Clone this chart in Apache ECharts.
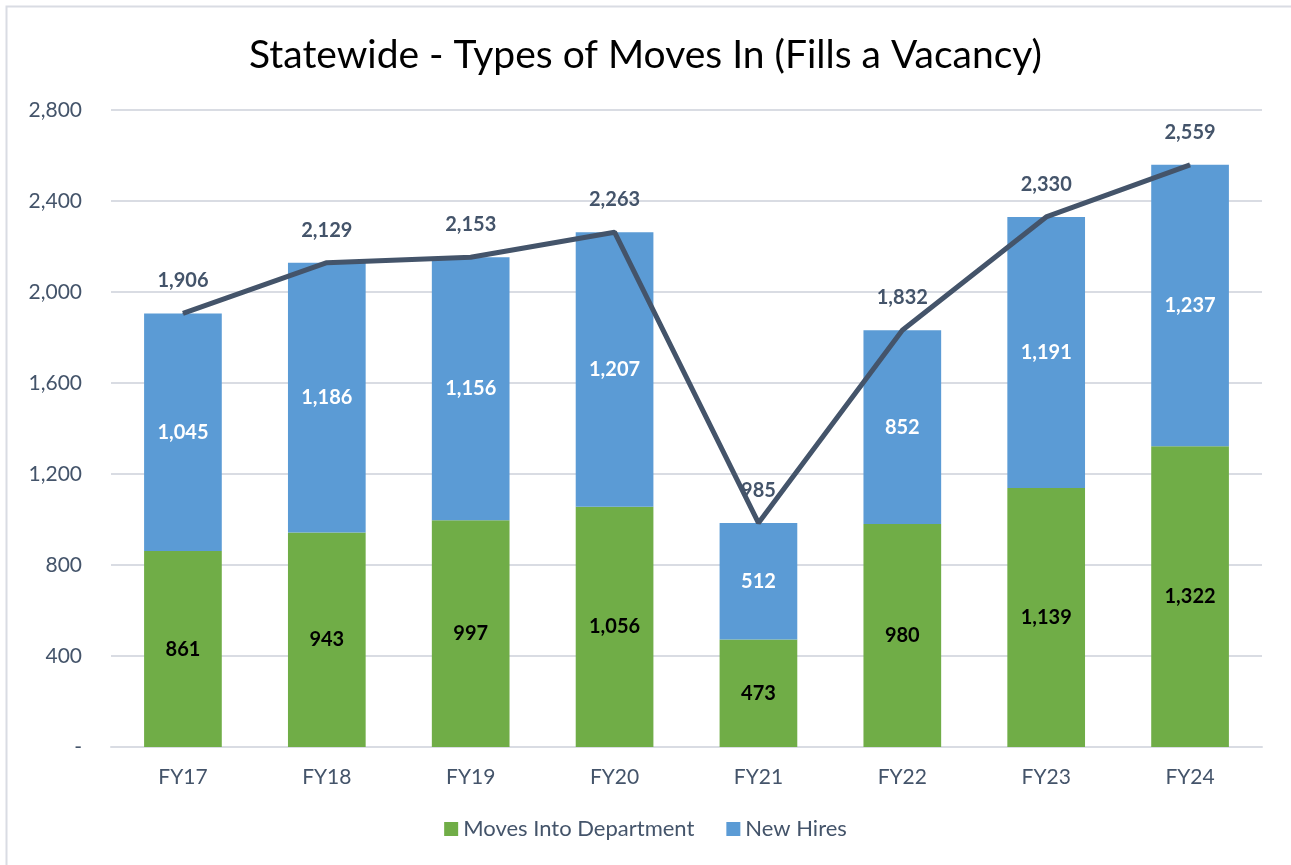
<!DOCTYPE html>
<html>
<head>
<meta charset="utf-8">
<script src="https://cdn.jsdelivr.net/npm/echarts@6/dist/echarts.min.js"></script>
<style>
  html, body { margin: 0; padding: 0; background: #fff; }
  #chart { width: 1291px; height: 865px; }
</style>
</head>
<body>
<div id="chart"></div>
<script>
const categories = ["FY17", "FY18", "FY19", "FY20", "FY21", "FY22", "FY23", "FY24"];
const movesIntoDept = [861, 943, 997, 1056, 473, 980, 1139, 1322];
const newHires = [1045, 1186, 1156, 1207, 512, 852, 1191, 1237];
const totals = [1906, 2129, 2153, 2263, 985, 1832, 2330, 2559];

const font = "Lato, 'Open Sans', sans-serif";
const textGray = "#44546A";

function fmt(v) {
  return v.toLocaleString("en-US");
}

const chart = echarts.init(document.getElementById("chart"), null, { renderer: "canvas" });

const option = {
  animation: false,
  backgroundColor: "#fff",
  textStyle: { fontFamily: font },
  graphic: [
    {
      type: "rect",
      shape: { x: 6.5, y: 6.5, width: 1310, height: 900 },
      style: { fill: "none", stroke: "#D9DCE3", lineWidth: 2 }
    }
  ],
  title: {
    text: "Statewide - Types of Moves In (Fills a Vacancy)",
    left: "center",
    top: 31,
    textStyle: { fontFamily: font, fontSize: 39, fontWeight: "normal", color: "#000" }
  },
  legend: {
    bottom: 20,
    left: "center",
    itemWidth: 14,
    itemHeight: 14,
    itemGap: 32,
    icon: "rect",
    data: ["Moves Into Department", "New Hires"],
    textStyle: { fontFamily: font, fontSize: 22, color: textGray }
  },
  grid: { left: 111, right: 29, top: 110, bottom: 118 },
  xAxis: {
    type: "category",
    data: categories,
    axisTick: { show: false },
    axisLine: { lineStyle: { color: "#D9DCE3", width: 2 } },
    axisLabel: { fontFamily: font, fontSize: 21, color: textGray, margin: 20 }
  },
  yAxis: {
    type: "value",
    min: 0,
    max: 2800,
    interval: 400,
    axisLine: { show: false },
    axisTick: { show: false },
    splitLine: { lineStyle: { color: "#D9DCE3", width: 2 } },
    axisLabel: {
      fontFamily: font,
      fontSize: 21,
      color: textGray,
      margin: 29,
      formatter: v => (v === 0 ? "-" : fmt(v))
    }
  },
  series: [
    {
      name: "Moves Into Department",
      type: "bar",
      stack: "total",
      barWidth: "54%",
      itemStyle: { color: "#70AD47" },
      label: {
        show: true,
        position: "inside",
        fontFamily: font,
        fontSize: 20,
        fontWeight: "bold",
        color: "#000",
        formatter: p => fmt(p.value)
      },
      data: movesIntoDept
    },
    {
      name: "New Hires",
      type: "bar",
      stack: "total",
      barWidth: "54%",
      itemStyle: { color: "#5B9BD5" },
      label: {
        show: true,
        position: "inside",
        fontFamily: font,
        fontSize: 20,
        fontWeight: "bold",
        color: "#fff",
        formatter: p => fmt(p.value)
      },
      data: newHires
    },
    {
      name: "Total",
      type: "line",
      showSymbol: true,
      symbol: "circle",
      symbolSize: 1,
      itemStyle: { color: "#44546A" },
      lineStyle: { color: "#44546A", width: 5 },
      label: {
        show: true,
        position: "top",
        distance: 22,
        fontFamily: font,
        fontSize: 20,
        fontWeight: "bold",
        color: textGray,
        formatter: p => fmt(p.value)
      },
      z: 5,
      data: totals
    }
  ]
};

chart.setOption(option);
window.addEventListener("resize", chart.resize);
</script>
</body>
</html>
